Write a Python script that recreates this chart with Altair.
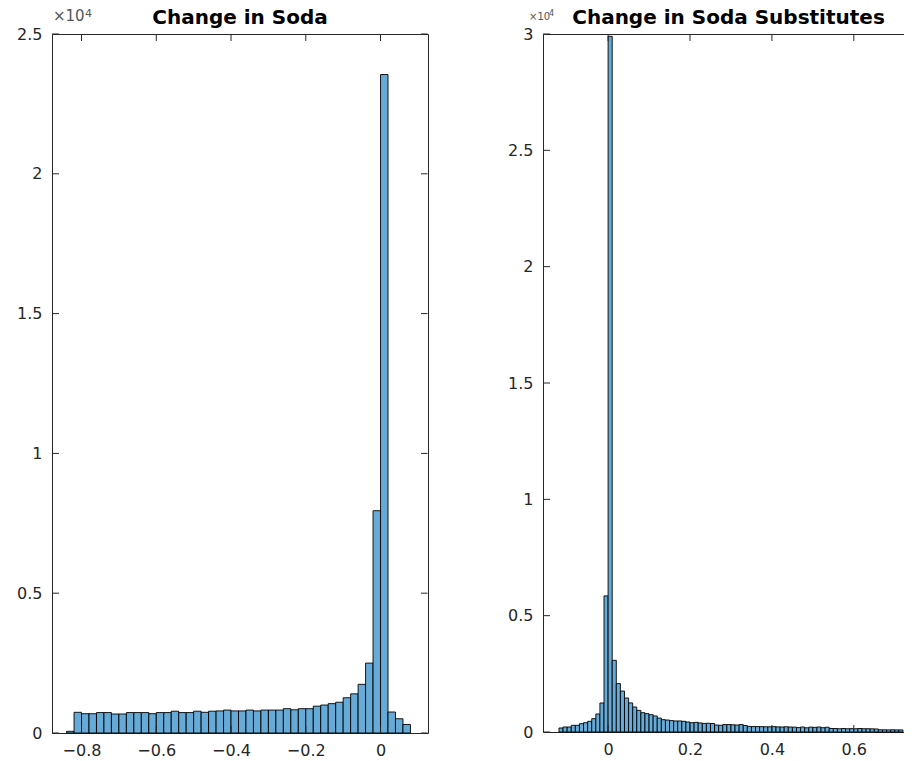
import altair as alt
import pandas as pd

# ---- data ----
soda_bin_start = -0.84
soda_bin_width = 0.02
soda_counts = [
    60, 740, 690, 690, 730, 730, 680, 680, 730, 730,
    730, 690, 730, 730, 780, 730, 730, 780, 740, 780,
    790, 820, 790, 790, 820, 790, 820, 820, 820, 870,
    830, 870, 870, 960, 1000, 1050, 1100, 1260, 1400, 1740,
    2500, 7950, 23550, 750, 510, 305,
]

subs_bin_start = -0.12
subs_bin_width = 0.01
subs_counts = [
    172, 215, 215, 287, 287, 358, 401, 459, 573, 774, 1247, 5850,
    29900,
    3080, 2080, 1760, 1460, 1250, 1075, 930, 830, 790, 745,
    690, 600, 530, 515, 490, 475, 475, 460, 430, 400,
    415, 390, 370, 375, 365, 300, 290, 320, 320, 310,
    300, 320, 280, 240, 235, 235, 230, 225, 225, 230,
    220, 215, 225, 215, 210, 190, 215, 180, 210, 200,
    215, 185, 205, 150, 150, 140, 150, 140, 145, 140,
    150, 140, 140, 135, 130, 95, 95, 90, 95, 90, 90,
]

soda_xticks = [-0.8, -0.6, -0.4, -0.2, 0]
soda_yticks = [0, 5000, 10000, 15000, 20000, 25000]
subs_xticks = [0, 0.2, 0.4, 0.6]
subs_yticks = [0, 5000, 10000, 15000, 20000, 25000, 30000]

titles = ["Change in Soda", "Change in Soda Substitutes"]

FONT = "DejaVu Sans"
AXC = "#262626"
BAR = "#66AAD7"


def hist_frame(start, width, counts):
    lo = [round(start + width * i, 4) for i in range(len(counts))]
    hi = [round(v + width, 4) for v in lo]
    return pd.DataFrame({"lo": lo, "hi": hi, "count": counts, "base": [0] * len(counts)})


def panel(df, xdom, ydom, xticks, yticks, title, w, h, exp_cfg):
    xaxis = alt.Axis(values=xticks, ticks=False, domain=False, grid=False, title=None,
                     format=".1~f", labelFont=FONT, labelFontSize=16, labelColor=AXC,
                     labelPadding=9)
    yaxis = alt.Axis(values=yticks, ticks=False, domain=False, grid=False, title=None,
                     labelExpr="format(datum.value / 10000, '~g')", labelFont=FONT,
                     labelFontSize=16, labelColor=AXC, labelPadding=10,
                     minExtent=42, maxExtent=42)
    xs = alt.Scale(domain=xdom, nice=False, zero=False)
    ys = alt.Scale(domain=ydom, nice=False, zero=False)

    bars = alt.Chart(df).mark_rect(fill=BAR, stroke="#000000", strokeWidth=0.9).encode(
        x=alt.X("lo:Q", scale=xs, axis=xaxis),
        x2="hi:Q",
        y=alt.Y("count:Q", scale=ys, axis=yaxis),
        y2="base:Q",
    )
    xt = pd.DataFrame({"lo": xticks})
    yt = pd.DataFrame({"count": yticks})
    tick_style = dict(color=AXC, strokeWidth=1)
    xb = alt.Chart(xt).mark_rule(**tick_style).encode(
        x=alt.X("lo:Q", scale=xs, axis=xaxis), y=alt.value(h), y2=alt.value(h - 7))
    xtop = alt.Chart(xt).mark_rule(**tick_style).encode(
        x=alt.X("lo:Q", scale=xs, axis=xaxis), y=alt.value(0), y2=alt.value(7))
    yl = alt.Chart(yt).mark_rule(**tick_style).encode(
        y=alt.Y("count:Q", scale=ys, axis=yaxis), x=alt.value(0), x2=alt.value(7))
    yr = alt.Chart(yt).mark_rule(**tick_style).encode(
        y=alt.Y("count:Q", scale=ys, axis=yaxis), x=alt.value(w - 0.5), x2=alt.value(w - 7))

    (bx, by, bs, sx, sy, ss) = exp_cfg
    one = pd.DataFrame({"t": ["×10"], "e": ["4"], "title": [title]})
    base_txt = alt.Chart(one).mark_text(font=FONT, color="#555555", align="left",
                                        baseline="alphabetic", fontSize=bs).encode(
        text="t:N", x=alt.value(bx), y=alt.value(by))
    exp_txt = alt.Chart(one).mark_text(font=FONT, color="#555555", align="left",
                                       baseline="alphabetic", fontSize=ss).encode(
        text="e:N", x=alt.value(sx), y=alt.value(sy))
    title_txt = alt.Chart(one).mark_text(font=FONT, color="#000000", align="center",
                                         baseline="alphabetic", fontSize=20,
                                         fontWeight="bold").encode(
        text="title:N", x=alt.value(w / 2), y=alt.value(-10))

    return alt.layer(bars, xb, xtop, yl, yr, base_txt, exp_txt, title_txt).properties(
        width=w, height=h)


left = panel(hist_frame(soda_bin_start, soda_bin_width, soda_counts),
             [-0.879, 0.127], [0, 25000], soda_xticks, soda_yticks,
             titles[0], 376, 699, (1, -13, 15, 33, -17.5, 11))
right = panel(hist_frame(subs_bin_start, subs_bin_width, subs_counts),
              [-0.159, 0.747], [0, 30000], subs_xticks, subs_yticks,
              titles[1], 371, 698, (-14, -14, 10, 6, -18, 8))

chart = alt.hconcat(left, right, spacing=71).properties(
    padding={"left": 1, "right": -11, "top": -1, "bottom": 0},
    background="#ffffff",
).configure_view(stroke=AXC, strokeWidth=1)

chart.save("out.html", embed_options={"renderer": "svg", "actions": False})
